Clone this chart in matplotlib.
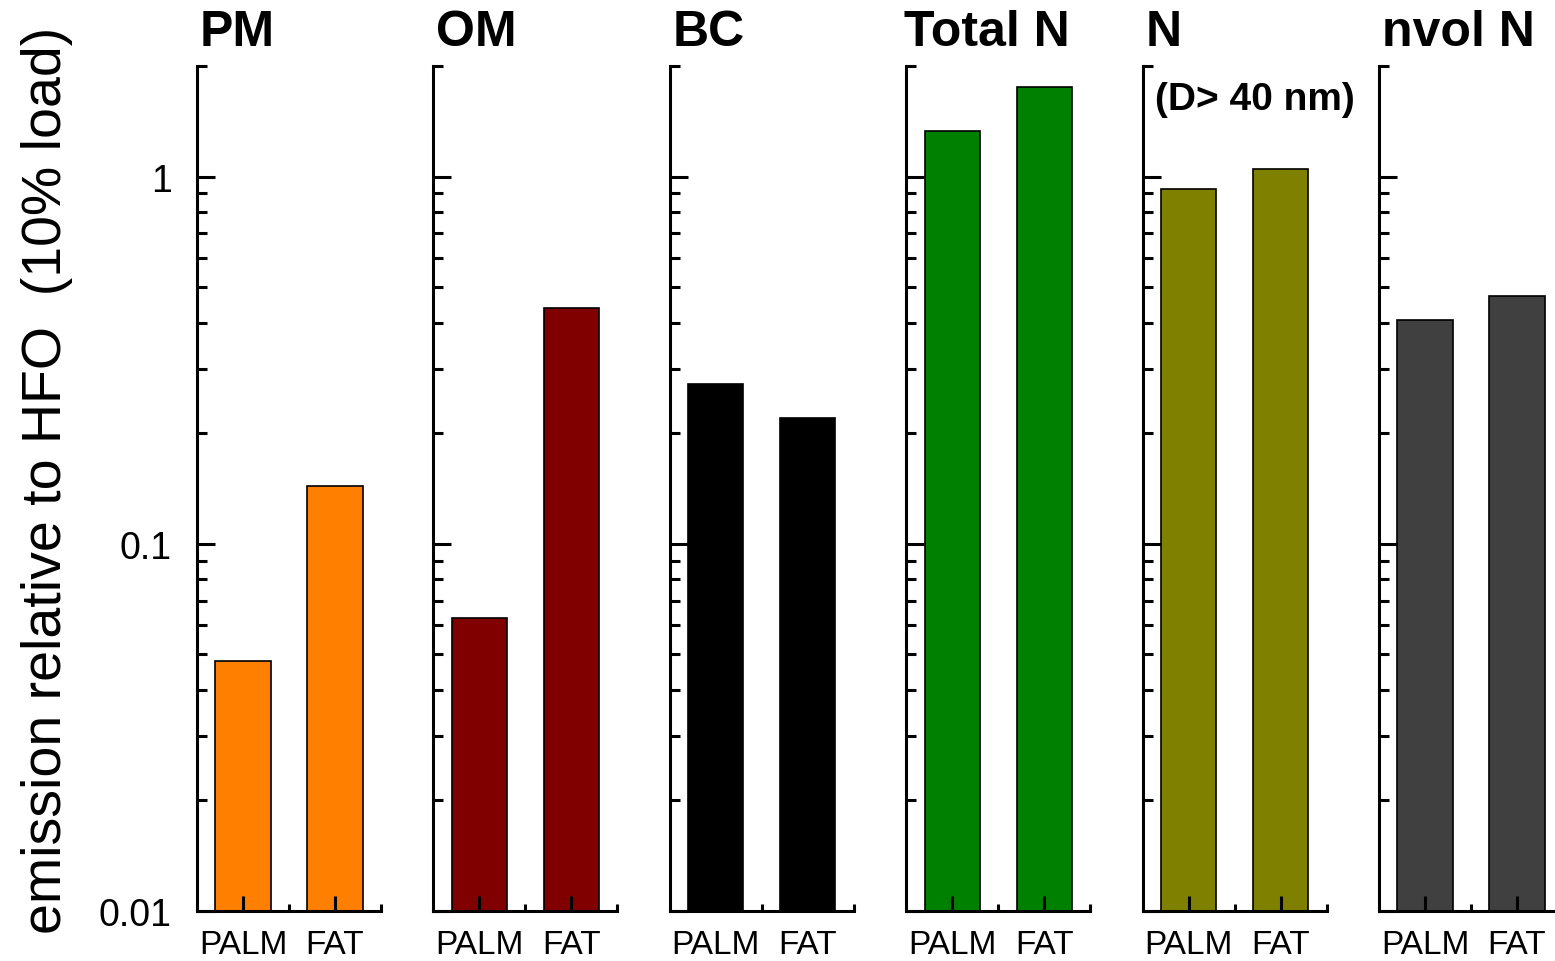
import matplotlib
matplotlib.use("Agg")
from matplotlib import pyplot as plt
from matplotlib.ticker import LogLocator, FixedLocator, NullFormatter
import numpy as np

plt.rcParams['font.family'] = ['Liberation Sans', 'DejaVu Sans']

titles = ['PM', 'OM', 'BC', 'Total N', 'N', 'nvol N']
fuels = ['PALM', 'FAT']
palm = [0.048, 0.0627, 0.273, 1.334, 0.922, 0.406]
fat = [0.144, 0.4375, 0.2196, 1.757, 1.051, 0.4715]
colors = ['#ff8000', '#800000', '#000000', '#008000', '#808000', '#404040']

W, H = 1555, 962
fig = plt.figure(figsize=(W/100, H/100), dpi=100)

left0 = 197
step = 236.4
aw = 184
bot = 912
top = 67

for i, t in enumerate(titles):
    ax = fig.add_axes([(left0 + i*step)/W, 1 - bot/H, aw/W, (bot - top)/H])
    ax.bar([1, 2], [palm[i], fat[i]], width=0.6, color=colors[i],
           edgecolor='black', linewidth=1.2)
    ax.set_yscale('log')
    ax.set_ylim(0.01, 2.0)
    ax.set_xlim(0.5, 2.5)
    for s in ['top', 'right']:
        ax.spines[s].set_visible(False)
    for s in ['left', 'bottom']:
        ax.spines[s].set_linewidth(2.2)
    ax.yaxis.set_major_locator(LogLocator(base=10, numticks=10))
    ax.yaxis.set_minor_locator(LogLocator(base=10, subs=np.arange(2, 10), numticks=20))
    ax.yaxis.set_minor_formatter(NullFormatter())
    ax.tick_params(axis='y', which='major', direction='in', length=13, width=2.2,
                   labelsize=27, pad=18)
    ax.tick_params(axis='y', which='minor', direction='in', length=7, width=2.2)
    ax.set_xticks([1, 2])
    ax.set_xticklabels(fuels)
    ax.xaxis.set_minor_locator(FixedLocator([1.5, 2.5]))
    ax.tick_params(axis='x', which='major', direction='in', length=11, width=2.2,
                   labelsize=24, pad=13)
    ax.tick_params(axis='x', which='minor', direction='in', length=5, width=2.2)
    if i == 0:
        ax.set_yticks([0.01, 0.1, 1])
        ax.set_yticklabels(['0.01', '0.1', '1'])
        ax.set_ylabel('emission relative to HFO  (10% load)', fontsize=40, labelpad=19)
        ax.yaxis.label.set_y(0.511)
    else:
        ax.tick_params(axis='y', which='both', labelleft=False)
    tx = 0.015 if len(t) < 7 else -0.01
    ax.text(tx, 1.025, t, transform=ax.transAxes, fontsize=36,
            fontweight='bold', ha='left', va='baseline')
    if t == 'N':
        ax.text(0.07, 0.949, '(D> 40 nm)', transform=ax.transAxes, fontsize=28,
                fontweight='bold', ha='left', va='baseline')

fig.savefig('out.png', dpi=100)
